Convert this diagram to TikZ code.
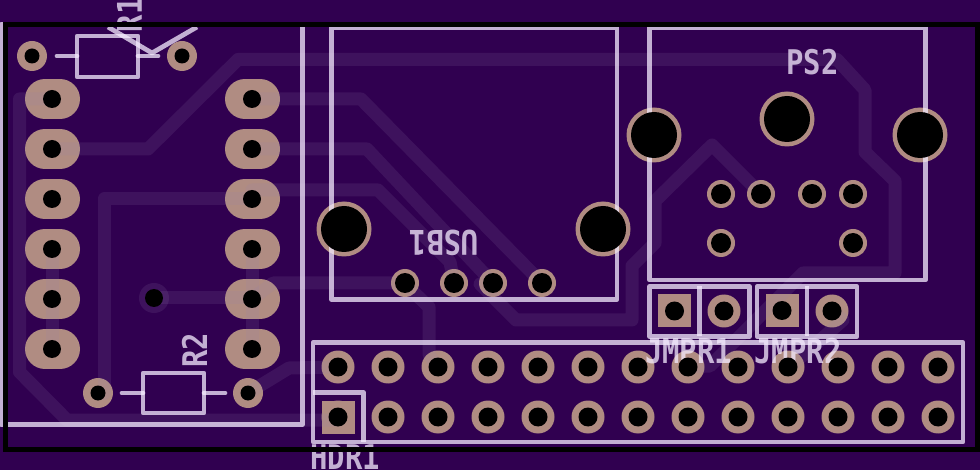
\documentclass[tikz,border=0pt]{standalone}
\usepackage{fontspec}
\newfontfamily\silkfont[FakeStretch=0.85]{DejaVu Sans Mono Bold}
\definecolor{boardcolor}{HTML}{300050}
\definecolor{tracecolor}{HTML}{9680B0}
\definecolor{padcolor}{HTML}{B08C82}
\definecolor{silkcolor}{HTML}{F5EBFF}

\begin{document}
\begin{tikzpicture}[x=1pt,y=-1pt,
    trace/.style={draw=tracecolor,opacity=0.14,line width=13pt,line cap=round,line join=round},
    silk/.style={draw=silkcolor,opacity=0.75,line width=4.7pt,line join=round},
    lead/.style={silk,line cap=round},
    silk label/.style={silkcolor,opacity=0.75,inner sep=0pt,font=\silkfont\fontsize{34}{34}\selectfont},
    long pad/.style={draw=padcolor,line width=40pt,line cap=round},
    pad/.style={fill=padcolor},
    hole/.style={fill=black}]

    \useasboundingbox (0,0) rectangle (980,470);
    \fill[boardcolor] (0,0) rectangle (980,470);

    % copper pads
    \foreach \y in {99,149,...,349} {
        \draw[long pad] (45,\y) -- (60,\y);
        \draw[long pad] (245,\y) -- (260,\y);
    }
    \foreach \x/\y in {32/56,182/56,98/393,248/393} {
        \fill[pad] (\x,\y) circle[radius=15pt];
    }
    \foreach \x/\y in {344/229,603/229,654/135,787/119,920/135} {
        \fill[pad] (\x,\y) circle[radius=27.5pt];
    }
    \foreach \x/\y in {405/283,454/283,493/283,542/283,721/194,761/194,812/194,853/194,721/243,853/243} {
        \fill[pad] (\x,\y) circle[radius=14pt];
    }
    \foreach \x in {338,388,...,938} {
        \fill[pad] (\x,367) circle[radius=16.5pt];
        \fill[pad] (\x,417) circle[radius=16.5pt];
    }
    \foreach \x/\y in {724/311,832/311} {
        \fill[pad] (\x,\y) circle[radius=16.5pt];
    }
    \foreach \x/\y in {338/417,674.5/311,782/310.5} {
        \fill[pad] (\x-16.5,\y-16.5) rectangle (\x+16.5,\y+16.5);
    }

    % traces
    \fill[tracecolor,opacity=0.14] (154,298) circle[radius=15pt];
    \draw[trace] (52,149) -- (148,149) -- (238,59.5) -- (837,59.5) -- (865,90) -- (865,152) -- (895,181) -- (895,273) -- (803,273) -- (710,366) -- (688,367);
    \draw[trace] (52,99) -- (19.5,99) -- (19.5,372) -- (67,420) -- (338,420);
    \draw[trace] (252,99) -- (361,99) -- (542,283);
    \draw[trace] (252,149) -- (367,149) -- (493,283) -- (480,284) -- (516,320) -- (632,320) -- (632,266) -- (655,243) -- (655,201) -- (712,145) -- (761,194);
    \draw[trace] (252,190) -- (378,190) -- (450,262) -- (454,283);
    \draw[trace] (252,199) -- (104,199) -- (104,393) -- (98,393);
    \draw[trace] (52,249) -- (52,349);
    \draw[trace] (252,249) -- (252,349);
    \draw[trace] (154,298) -- (252,298);
    \draw[trace] (252,299) -- (273,283) -- (404,283) -- (429,307) -- (429,355) -- (438,367);
    \draw[trace] (248,393) -- (289,368) -- (338,367);
    \draw[trace] (832,311) -- (843,320) -- (790,367);

    % silkscreen
    \draw[silk] (1,24.5) rectangle (302.5,424.5);
    \draw[silk] (331.5,27.5) rectangle (617,299.5);
    \draw[silk] (649.5,27.5) rectangle (925.5,280);
    \draw[silk] (313,342.5) rectangle (963,442);
    \draw[silk] (313,392.5) -- (363.5,392.5) -- (363.5,442);
    \draw[silk] (649.5,286.5) rectangle (749.5,336.5);
    \draw[silk] (699.5,286.5) -- (699.5,336.5);
    \draw[silk] (757,286.5) rectangle (857,336.5);
    \draw[silk] (807,286.5) -- (807,336.5);
    \draw[silk] (77,36) rectangle (138,77);
    \draw[silk] (143,373) rectangle (204,413);
    \draw[lead] (57,56) -- (77,56);
    \draw[lead] (138,56) -- (158,56);
    \draw[lead] (122,393) -- (143,393);
    \draw[lead] (204,393) -- (225,393);
    \draw[silk] (108,27) -- (152,53) -- (197,27);

    \node[silk label,rotate=90] (r1) at (129.5,15) {R1};
    \node[silk label,rotate=90] (r2) at (194.5,350) {R2};
    \node[silk label,rotate=180] (usb1) at (444,243) {USB1};
    \node[silk label] (ps2) at (812.5,62.5) {PS2};
    \node[silk label] (jmpr1) at (688.5,351) {JMPR1};
    \node[silk label] (jmpr2) at (798,351) {JMPR2};
    \node[silk label] (hdr1) at (345,457) {HDR1};

    % drill holes
    \foreach \y in {99,149,...,349} {
        \fill[hole] (52,\y) circle[radius=9pt];
        \fill[hole] (252,\y) circle[radius=9pt];
    }
    \foreach \x/\y in {32/56,182/56,98/393,248/393} {
        \fill[hole] (\x,\y) circle[radius=7.5pt];
    }
    \fill[hole] (154,298) circle[radius=9pt];
    \foreach \x/\y in {344/229,603/229,654/135,787/119,920/135} {
        \fill[hole] (\x,\y) circle[radius=23pt];
    }
    \foreach \x/\y in {405/283,454/283,493/283,542/283,721/194,761/194,812/194,853/194,721/243,853/243} {
        \fill[hole] (\x,\y) circle[radius=10pt];
    }
    \foreach \x in {338,388,...,938} {
        \fill[hole] (\x,367) circle[radius=9.5pt];
        \fill[hole] (\x,417) circle[radius=9.5pt];
    }
    \foreach \x/\y in {674.5/311,724/311,782/310.5,832/311} {
        \fill[hole] (\x,\y) circle[radius=9.5pt];
    }

    % board outline
    \draw[black,line width=5pt] (5,24.5) rectangle (977.5,449.5);
\end{tikzpicture}
\end{document}
